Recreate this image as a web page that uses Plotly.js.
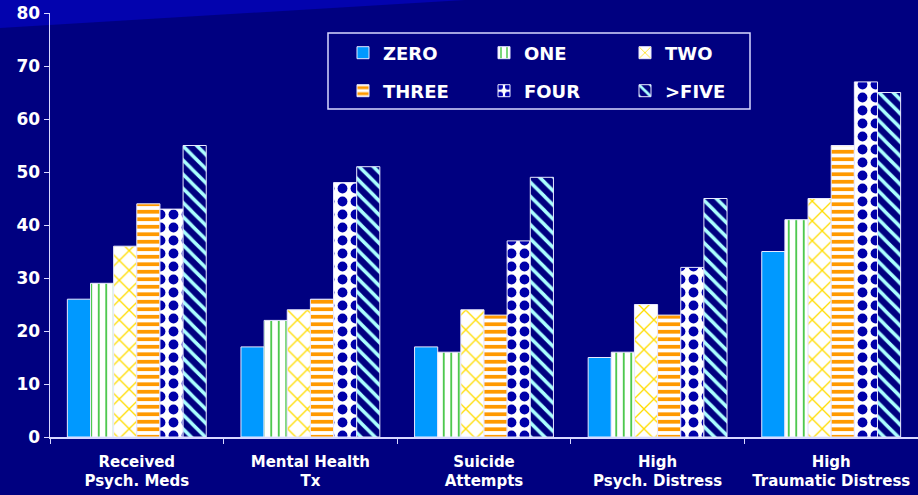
<!DOCTYPE html>
<html>
<head>
<meta charset="utf-8">
<script src="https://cdn.plot.ly/plotly-3.0.1.min.js"></script>
<style>
html,body{margin:0;padding:0;background:#000080;}
#chart{width:918px;height:495px;}
</style>
</head>
<body>
<div id="chart"></div>
<script>
const categories = ["Received<br>Psych. Meds", "Mental Health<br>Tx", "Suicide<br>Attempts", "High<br>Psych. Distress", "High<br>Traumatic Distress"];
const seriesNames = ["ZERO", "ONE", "TWO", "THREE", "FOUR", ">FIVE"];
const zeroVals  = [26, 17, 17, 15, 35];
const oneVals   = [29, 22, 16, 16, 41];
const twoVals   = [36, 24, 24, 25, 45];
const threeVals = [44, 26, 23, 23, 55];
const fourVals  = [43, 48, 37, 32, 67];
const fiveVals  = [55, 51, 49, 45, 65];
const yTicks = [0, 10, 20, 30, 40, 50, 60, 70, 80];

const FONT = "DejaVu Sans, Verdana, sans-serif";
const outline = {color: "#e8e8ff", width: 1};

const styles = [
  {color: "#0099FF", pattern: {shape: ""}, legend: "legend"},
  {color: "#22BB22", pattern: {shape: "|", fgcolor: "#22BB22", bgcolor: "#FFFFFF", size: 7.5, solidity: 0.2}, legend: "legend"},
  {color: "#FFDD00", pattern: {shape: "x", fgcolor: "#FFDD00", bgcolor: "#FFFFFF", size: 14, solidity: 0.18}, legend: "legend"},
  {color: "#FF9900", pattern: {shape: "-", fgcolor: "#FF9900", bgcolor: "#FFFFFF", size: 7.5, solidity: 0.5}, legend: "legend2"},
  {color: "#0000AA", pattern: {shape: ".", fgcolor: "#0000AA", bgcolor: "#FFFFFF", size: 13, solidity: 0.45}, legend: "legend2"},
  {color: "#AAFFFF", pattern: {shape: "\\", fgcolor: "#AAFFFF", bgcolor: "#000080", size: 10, solidity: 0.35}, legend: "legend2"}
];
const allVals = [zeroVals, oneVals, twoVals, threeVals, fourVals, fiveVals];

const traces = allVals.map((vals, i) => ({
  type: "bar",
  name: seriesNames[i],
  x: categories,
  y: vals,
  legend: styles[i].legend,
  marker: {color: styles[i].color, pattern: styles[i].pattern, line: outline},
  hoverinfo: "x+y+name"
}));

const W = 918, H = 495, ml = 50, mr = 0, mt = 13, mb = 58;
const pw = W - ml - mr, ph = H - mt - mb;
const px = x => (x - ml) / pw;
const py = y => (H - mb - y) / ph;

const legendFont = {family: FONT, size: 18, color: "#FFFFFF", weight: "bold"};
const legendCommon = {
  orientation: "h", xanchor: "left", yanchor: "middle",
  bgcolor: "rgba(0,0,0,0)", borderwidth: 0,
  font: legendFont, entrywidth: 96, entrywidthmode: "pixels",
  traceorder: "normal", itemclick: false, itemdoubleclick: false
};

const layout = {
  width: W, height: H,
  margin: {l: ml, r: mr, t: mt, b: mb, pad: 0},
  paper_bgcolor: "#000080",
  plot_bgcolor: "rgba(0,0,0,0)",
  font: {family: FONT, color: "#FFFFFF"},
  barmode: "group",
  bargap: 0.2,
  bargroupgap: 0,
  showlegend: true,
  legend: Object.assign({x: px(343), y: py(53)}, legendCommon),
  legend2: Object.assign({x: px(343), y: py(91)}, legendCommon),
  xaxis: {
    type: "category",
    tickson: "boundaries",
    ticks: "outside", ticklen: 5, tickcolor: "#d8d8ff", tickwidth: 1,
    showline: true, linecolor: "#d8d8ff", linewidth: 1.5,
    showgrid: false, zeroline: false,
    ticklabelstandoff: 10,
    tickfont: {family: FONT, size: 15, color: "#FFFFFF", weight: "bold"},
    fixedrange: true
  },
  yaxis: {
    range: [0, 80],
    tickvals: yTicks,
    ticks: "outside", ticklen: 5, tickcolor: "#d8d8ff", tickwidth: 1,
    showline: true, linecolor: "#d8d8ff", linewidth: 1.5,
    showgrid: false, zeroline: false,
    tickfont: {family: FONT, size: 17, color: "#FFFFFF", weight: "bold"},
    fixedrange: true
  },
  shapes: [
    {type: "path", xref: "paper", yref: "paper", layer: "below",
     path: `M ${px(0)} ${py(0)} L ${px(918)} ${py(0)} L ${px(918)} ${py(-2)} L ${px(465)} ${py(0)} L ${px(0)} ${py(28)} Z`,
     fillcolor: "#0303AE", line: {width: 0}},
    {type: "rect", xref: "paper", yref: "paper", layer: "above",
     x0: px(328), x1: px(750), y0: py(109), y1: py(33),
     line: {color: "#d8d8ff", width: 1.5}, fillcolor: "rgba(0,0,0,0)"}
  ]
};

Plotly.newPlot("chart", traces, layout, {displayModeBar: false, staticPlot: true});
</script>
</body>
</html>
